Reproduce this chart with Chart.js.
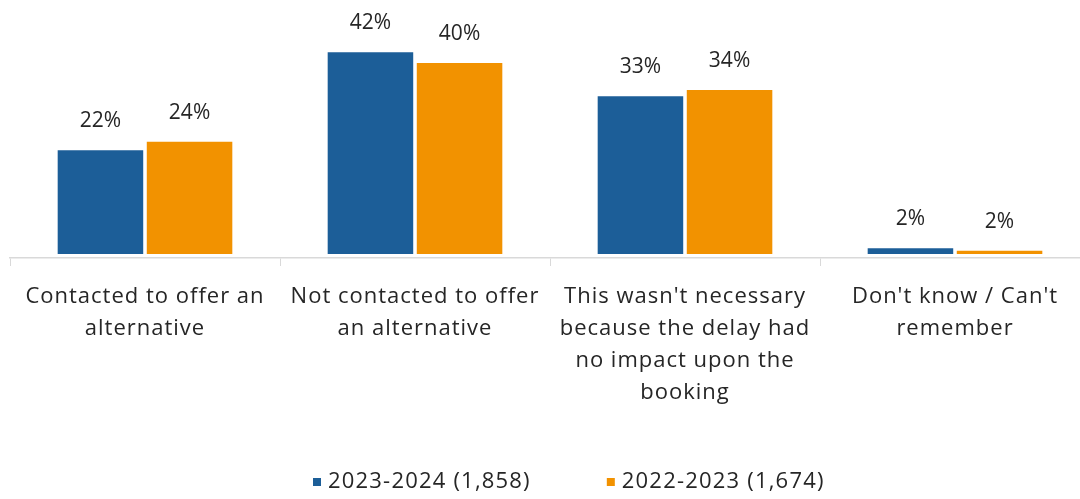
<!DOCTYPE html>
<html lang="en">
<head>
  <meta charset="UTF-8" />
  <title>Booking delay contact</title>
  <script src="https://cdn.jsdelivr.net/npm/chart.js"></script>
  <style>
    body { margin: 0; overflow: hidden; background: #fff; font-family: "Open Sans", sans-serif; }
    #wrap { width: 1092px; height: 499px; }
  </style>
</head>
<body>
<div id="wrap"><canvas id="chart" width="1092" height="499"></canvas></div>
<script>
const categories = [
  ['Contacted to offer an', 'alternative'],
  ['Not contacted to offer', 'an alternative'],
  ["This wasn't necessary", 'because the delay had', 'no impact upon the', 'booking'],
  ["Don't know / Can't", 'remember']
];
const seriesNames = ['2023-2024 (1,858)', '2022-2023 (1,674)'];
const values2324 = [22, 42, 33, 2];
const values2223 = [23.7, 39.8, 34.3, 1.5];
const colours = ['#1c5e98', '#f29200'];

const textColour = '#262626';
const fontFamily = '"Open Sans", sans-serif';
const fontSize = 22;

// the original text is set quite loose, so widen the tracking a little
const tracking = {
  id: 'tracking',
  beforeUpdate(chart) { chart.ctx.letterSpacing = '1px'; },
  beforeDraw(chart) { chart.ctx.letterSpacing = '1px'; }
};

// percentage labels above each bar
const barLabels = {
  id: 'barLabels',
  afterDatasetsDraw(chart) {
    const ctx = chart.ctx;
    ctx.save();
    ctx.letterSpacing = '0px';
    ctx.font = '21px ' + fontFamily;
    ctx.fillStyle = textColour;
    ctx.textAlign = 'center';
    ctx.textBaseline = 'middle';
    chart.data.datasets.forEach((ds, i) => {
      chart.getDatasetMeta(i).data.forEach((bar, j) => {
        ctx.fillText(Math.round(ds.data[j]) + '%', bar.x, bar.y - 29);
      });
    });
    ctx.restore();
  }
};

// legend drawn by hand so the gap between items can match
const bottomLegend = {
  id: 'bottomLegend',
  afterDraw(chart) {
    const ctx = chart.ctx;
    ctx.save();
    ctx.letterSpacing = '1.2px';
    ctx.font = fontSize + 'px ' + fontFamily;
    ctx.textBaseline = 'middle';
    const gap = 76, box = 8, y = 482;
    const widths = seriesNames.map(n => box + 7 + ctx.measureText(n).width);
    let x = 313;
    seriesNames.forEach((n, i) => {
      ctx.fillStyle = colours[i];
      ctx.fillRect(x, y - box / 2, box, box);
      ctx.fillStyle = textColour;
      ctx.fillText(n, x + box + 7, y);
      x += widths[i] + gap;
    });
    ctx.restore();
  }
};

new Chart(document.getElementById('chart'), {
  type: 'bar',
  data: {
    labels: categories,
    datasets: [
      { label: seriesNames[0], data: values2324, backgroundColor: colours[0], base: 0.8 },
      { label: seriesNames[1], data: values2223, backgroundColor: colours[1], base: 0.8 }
    ]
  },
  options: {
    responsive: false,
    animation: false,
    layout: { padding: { left: 10, right: 2, top: 13, bottom: 75 } },
    datasets: { bar: { categoryPercentage: 0.66, barPercentage: 0.96 } },
    scales: {
      x: {
        grid: { drawOnChartArea: false, color: '#d9d9d9', tickLength: 8 },
        border: { color: '#d9d9d9', width: 1.5 },
        ticks: {
          color: textColour,
          padding: 15,
          maxRotation: 0,
          autoSkip: false,
          font: { family: fontFamily, size: fontSize, lineHeight: '32px' }
        }
      },
      y: { display: false, min: 0, max: 50 }
    },
    plugins: {
      legend: { display: false },
      tooltip: { enabled: false }
    }
  },
  plugins: [tracking, barLabels, bottomLegend]
});
</script>
</body>
</html>
